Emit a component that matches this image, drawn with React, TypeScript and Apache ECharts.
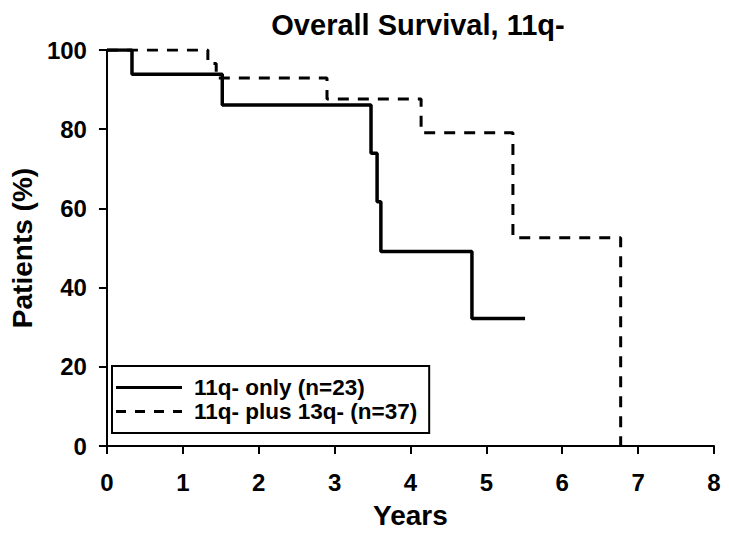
import React, { useEffect, useRef } from "react";
import * as echarts from "echarts";

const FONT = '"Liberation Sans", Arial, sans-serif';

const TITLE = "Overall Survival, 11q-";
const X_NAME = "Years";
const Y_NAME = "Patients (%)";

const SERIES_NAMES = ["11q- only (n=23)", "11q- plus 13q- (n=37)"];

// Kaplan-Meier step points (time in years, survival %)
const onlyTimes = [0, 0.33, 1.52, 3.48, 3.56, 3.61, 4.81, 5.51];
const onlySurv = [100, 93.9, 86.1, 73.9, 61.7, 49.1, 32.2, 32.2];

const plusTimes = [0, 1.33, 1.44, 2.9, 4.14, 5.35, 6.77];
const plusSurv = [100, 96.6, 92.9, 87.6, 79.1, 52.6, 0];

const X_MIN = 0;
const X_MAX = 8;
const X_STEP = 1;
const Y_MIN = 0;
const Y_MAX = 100;
const Y_STEP = 20;

const SOLID_ICON = "path://M0,0H66V3H0Z";
const DASH_ICON = "path://M0,0H10V3H0Z M19,0H29V3H19Z M38,0H48V3H38Z M57,0H66V3H57Z";

function pairs(t: number[], s: number[]) {
  return t.map((v, i) => [v, s[i]]);
}

export default function App() {
  const ref = useRef<HTMLDivElement>(null);

  useEffect(() => {
    if (!ref.current) return;
    const chart = echarts.init(ref.current, null, { renderer: "svg" });
    const axisLine = { show: true, lineStyle: { color: "#000", width: 2 } };
    const axisTick = { show: true, length: 8, lineStyle: { color: "#000", width: 2 } };
    const labelStyle = { color: "#000", fontSize: 24, fontWeight: "bold" as const, fontFamily: FONT };
    const nameStyle = { color: "#000", fontSize: 28, fontWeight: "bold" as const, fontFamily: FONT };
    chart.setOption({
      animation: false,
      backgroundColor: "#fff",
      title: {
        text: TITLE,
        left: 413,
        top: 5,
        textAlign: "center",
        textStyle: { color: "#000", fontSize: 29, fontWeight: "bold", fontFamily: FONT },
      },
      grid: { left: 102, right: 15, top: 50, bottom: 90, containLabel: false },
      legend: {
        orient: "vertical",
        left: 112,
        top: 366,
        backgroundColor: "#fff",
        borderColor: "#000",
        borderWidth: 2,
        borderRadius: 0,
        padding: [10, 12, 10, 4],
        itemWidth: 66,
        itemHeight: 3,
        itemGap: 1,
        selectedMode: false,
        textStyle: {
          color: "#000",
          fontSize: 22.5,
          lineHeight: 22,
          fontWeight: "bold",
          fontFamily: FONT,
          padding: [0, 0, 0, 7],
        },
        data: [
          { name: SERIES_NAMES[0], icon: SOLID_ICON },
          { name: SERIES_NAMES[1], icon: DASH_ICON },
        ],
      },
      xAxis: {
        type: "value",
        min: X_MIN,
        max: X_MAX,
        interval: X_STEP,
        name: X_NAME,
        nameLocation: "middle",
        nameGap: 55,
        nameTextStyle: nameStyle,
        axisLine,
        axisTick,
        splitLine: { show: false },
        axisLabel: { ...labelStyle, margin: 24 },
      },
      yAxis: {
        type: "value",
        min: Y_MIN,
        max: Y_MAX,
        interval: Y_STEP,
        name: Y_NAME,
        nameLocation: "middle",
        nameGap: 66,
        nameTextStyle: nameStyle,
        axisLine,
        axisTick,
        splitLine: { show: false },
        axisLabel: { ...labelStyle, margin: 20 },
      },
      series: [
        {
          name: SERIES_NAMES[0],
          type: "line",
          step: "end",
          symbol: "none",
          color: "#000",
          lineStyle: { color: "#000", width: 3.5, type: "solid" },
          data: pairs(onlyTimes, onlySurv),
          z: 3,
        },
        {
          name: SERIES_NAMES[1],
          type: "line",
          step: "end",
          symbol: "none",
          color: "#000",
          lineStyle: { color: "#000", width: 3, type: [11, 9] },
          data: pairs(plusTimes, plusSurv),
          z: 2,
        },
      ],
    });
    return () => chart.dispose();
  }, []);

  return (
    <div
      ref={ref}
      style={{ position: "absolute", left: 0, top: 0, width: 729, height: 536, background: "#fff" }}
    />
  );
}
